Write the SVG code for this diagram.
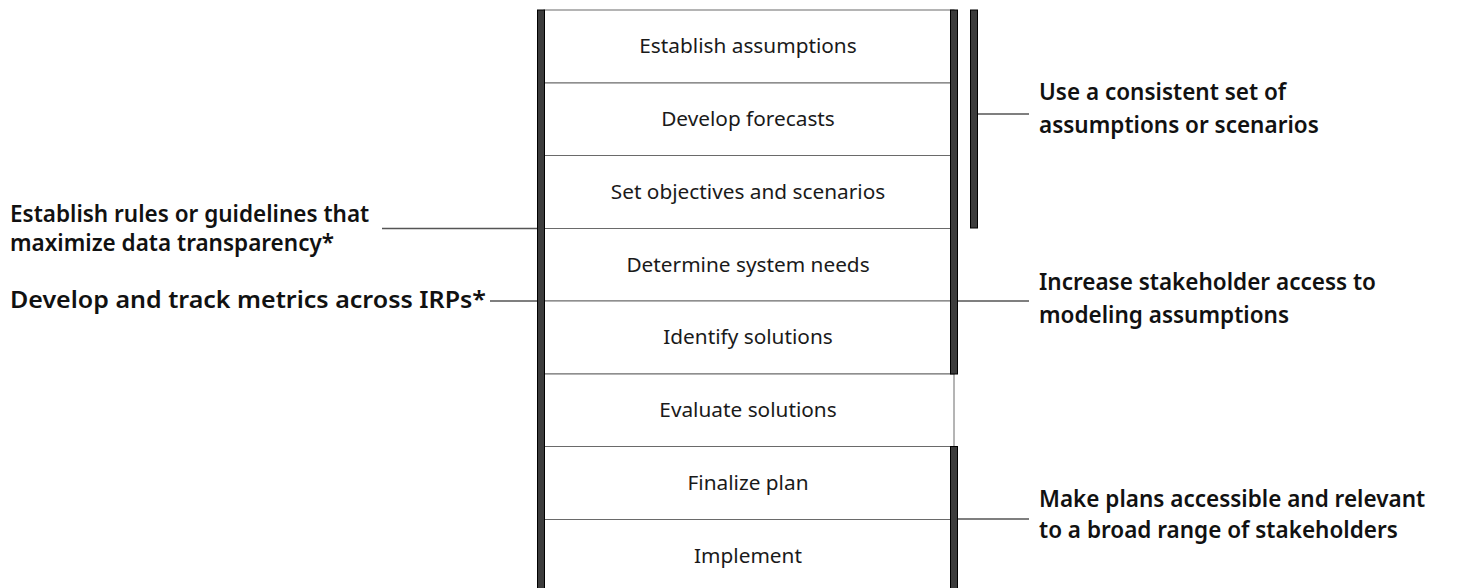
<svg xmlns="http://www.w3.org/2000/svg" width="1471" height="588" viewBox="0 0 1471 588">
  <style>
    .step { fill: #ffffff; stroke: #6a6a6a; stroke-width: 1; }
    .step-label { font-family: "Noto Sans", "Liberation Sans", sans-serif; font-size: 20.8px; fill: #1a1a1a; text-anchor: middle; }
    .note { font-family: "Noto Sans", "Liberation Sans", sans-serif; font-size: 22.5px; font-weight: 600; fill: #111111; }
    .bar { fill: #3c3c3c; stroke: #000000; stroke-width: 1; }
    .link { stroke: #555555; stroke-width: 1.6; fill: none; }
  </style>

  <rect width="1471" height="588" fill="#ffffff"/>

  <!-- process steps -->
  <g id="step-establish-assumptions">
    <rect class="step" x="544" y="10" width="410" height="73"/>
    <text class="step-label" x="748" y="53">Establish assumptions</text>
  </g>
  <g id="step-develop-forecasts">
    <rect class="step" x="544" y="83" width="410" height="72.5"/>
    <text class="step-label" x="748" y="126">Develop forecasts</text>
  </g>
  <g id="step-set-objectives">
    <rect class="step" x="544" y="155.5" width="410" height="73"/>
    <text class="step-label" x="748" y="198.5">Set objectives and scenarios</text>
  </g>
  <g id="step-determine-needs">
    <rect class="step" x="544" y="228.5" width="410" height="72.5"/>
    <text class="step-label" x="748" y="271.5">Determine system needs</text>
  </g>
  <g id="step-identify-solutions">
    <rect class="step" x="544" y="301" width="410" height="73"/>
    <text class="step-label" x="748" y="344">Identify solutions</text>
  </g>
  <g id="step-evaluate-solutions">
    <rect class="step" x="544" y="374" width="410" height="72.5"/>
    <text class="step-label" x="748" y="417">Evaluate solutions</text>
  </g>
  <g id="step-finalize-plan">
    <rect class="step" x="544" y="446.5" width="410" height="73"/>
    <text class="step-label" x="748" y="489.5">Finalize plan</text>
  </g>
  <g id="step-implement">
    <rect class="step" x="544" y="519.5" width="410" height="73"/>
    <text class="step-label" x="748" y="562.5">Implement</text>
  </g>

  <!-- brackets spanning groups of steps -->
  <g id="brackets">
    <rect class="bar" x="537.5" y="10" width="7" height="590"/>
    <rect class="bar" x="950.5" y="10" width="7" height="364"/>
    <rect class="bar" x="950.5" y="446.5" width="7" height="150"/>
    <rect class="bar" x="970.5" y="10" width="7" height="218"/>
  </g>

  <!-- leader lines -->
  <g id="connectors">
    <line class="link" x1="382" y1="228.5" x2="537" y2="228.5"/>
    <line class="link" x1="490" y1="301" x2="537" y2="301"/>
    <line class="link" x1="978" y1="114" x2="1029" y2="114"/>
    <line class="link" x1="958" y1="301" x2="1029" y2="301"/>
    <line class="link" x1="958" y1="519" x2="1029" y2="519"/>
  </g>

  <!-- practice notes -->
  <g id="note-data-transparency">
    <text class="note" x="10" y="222">Establish rules or guidelines that</text>
    <text class="note" x="10" y="251">maximize data transparency*</text>
  </g>
  <g id="note-track-metrics">
    <text class="note" x="10" y="308" textLength="476" lengthAdjust="spacingAndGlyphs">Develop and track metrics across IRPs*</text>
  </g>
  <g id="note-consistent-assumptions">
    <text class="note" x="1039" y="100">Use a consistent set of</text>
    <text class="note" x="1039" y="133">assumptions or scenarios</text>
  </g>
  <g id="note-stakeholder-access">
    <text class="note" x="1039" y="290">Increase stakeholder access to</text>
    <text class="note" x="1039" y="323">modeling assumptions</text>
  </g>
  <g id="note-accessible-plans">
    <text class="note" x="1039" y="507">Make plans accessible and relevant</text>
    <text class="note" x="1039" y="538">to a broad range of stakeholders</text>
  </g>
</svg>
